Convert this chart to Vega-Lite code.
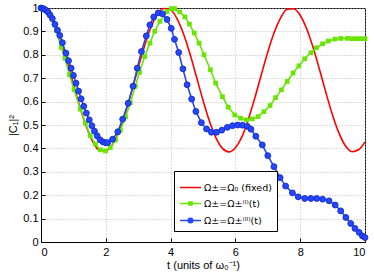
{
 "$schema": "https://vega.github.io/schema/vega-lite/v6.json",
 "width": 324, "height": 234,
 "autosize": {"type": "none"},
 "padding": {"left": 41, "top": 8, "right": 9, "bottom": 30},
 "config": {
  "view": {"stroke": "#000", "strokeWidth": 1},
  "font": "Liberation Sans",
  "axis": {"labelFont": "Liberation Sans", "labelFontSize": 11, "labelColor": "#000", "titleFont": "Liberation Sans", "titleFontSize": 11, "titleFontWeight": "normal", "titleColor": "#000", "domainColor": "#000", "tickColor": "#000", "tickSize": -4, "gridColor": "#bbbbbb", "gridDash": [1, 2], "gridWidth": 1}
 },
 "data": {"values": [
  {"s":"A","t":0,"v":1.0},{"s":"A","t":0.2,"v":0.984},{"s":"A","t":0.4,"v":0.937},{"s":"A","t":0.6,"v":0.865},{"s":"A","t":0.8,"v":0.774},{"s":"A","t":1.0,"v":0.675},{"s":"A","t":1.2,"v":0.578},{"s":"A","t":1.4,"v":0.493},{"s":"A","t":1.6,"v":0.428},{"s":"A","t":1.8,"v":0.392},{"s":"A","t":2.0,"v":0.389},{"s":"A","t":2.2,"v":0.415},{"s":"A","t":2.4,"v":0.472},{"s":"A","t":2.6,"v":0.551},{"s":"A","t":2.8,"v":0.645},{"s":"A","t":3.0,"v":0.745},{"s":"A","t":3.2,"v":0.840},{"s":"A","t":3.4,"v":0.920},{"s":"A","t":3.6,"v":0.974},{"s":"A","t":3.8,"v":0.998},{"s":"A","t":4.0,"v":0.992},{"s":"A","t":4.2,"v":0.954},{"s":"A","t":4.4,"v":0.889},{"s":"A","t":4.6,"v":0.803},{"s":"A","t":4.8,"v":0.705},{"s":"A","t":5.0,"v":0.606},{"s":"A","t":5.2,"v":0.516},{"s":"A","t":5.4,"v":0.445},{"s":"A","t":5.6,"v":0.400},{"s":"A","t":5.8,"v":0.385},{"s":"A","t":6.0,"v":0.403},{"s":"A","t":6.2,"v":0.449},{"s":"A","t":6.4,"v":0.525},{"s":"A","t":6.6,"v":0.616},{"s":"A","t":6.8,"v":0.715},{"s":"A","t":7.0,"v":0.812},{"s":"A","t":7.2,"v":0.896},{"s":"A","t":7.4,"v":0.959},{"s":"A","t":7.6,"v":0.995},{"s":"A","t":7.8,"v":0.997},{"s":"A","t":8.0,"v":0.969},{"s":"A","t":8.2,"v":0.911},{"s":"A","t":8.4,"v":0.830},{"s":"A","t":8.6,"v":0.735},{"s":"A","t":8.8,"v":0.635},{"s":"A","t":9.0,"v":0.542},{"s":"A","t":9.2,"v":0.464},{"s":"A","t":9.4,"v":0.410},{"s":"A","t":9.6,"v":0.386},{"s":"A","t":9.8,"v":0.394},{"s":"A","t":10.0,"v":0.428},
  {"s":"B","t":0,"v":1.0},{"s":"B","t":0.08,"v":0.998},{"s":"B","t":0.16,"v":0.99},{"s":"B","t":0.25,"v":0.975},{"s":"B","t":0.35,"v":0.952},{"s":"B","t":0.47,"v":0.905},{"s":"B","t":0.62,"v":0.832},{"s":"B","t":0.74,"v":0.785},{"s":"B","t":0.88,"v":0.715},{"s":"B","t":1.02,"v":0.652},{"s":"B","t":1.21,"v":0.568},{"s":"B","t":1.37,"v":0.508},{"s":"B","t":1.52,"v":0.455},{"s":"B","t":1.68,"v":0.418},{"s":"B","t":1.83,"v":0.394},{"s":"B","t":1.99,"v":0.389},{"s":"B","t":2.14,"v":0.404},{"s":"B","t":2.30,"v":0.436},{"s":"B","t":2.45,"v":0.478},{"s":"B","t":2.61,"v":0.535},{"s":"B","t":2.76,"v":0.595},{"s":"B","t":2.91,"v":0.665},{"s":"B","t":3.04,"v":0.725},{"s":"B","t":3.20,"v":0.793},{"s":"B","t":3.36,"v":0.850},{"s":"B","t":3.51,"v":0.900},{"s":"B","t":3.67,"v":0.943},{"s":"B","t":3.89,"v":0.985},{"s":"B","t":4.02,"v":0.997},{"s":"B","t":4.12,"v":0.998},{"s":"B","t":4.28,"v":0.983},{"s":"B","t":4.44,"v":0.962},{"s":"B","t":4.58,"v":0.931},{"s":"B","t":4.73,"v":0.893},{"s":"B","t":4.88,"v":0.850},{"s":"B","t":5.03,"v":0.800},{"s":"B","t":5.23,"v":0.736},{"s":"B","t":5.39,"v":0.679},{"s":"B","t":5.60,"v":0.621},{"s":"B","t":5.78,"v":0.576},{"s":"B","t":5.98,"v":0.543},{"s":"B","t":6.16,"v":0.529},{"s":"B","t":6.34,"v":0.522},{"s":"B","t":6.52,"v":0.526},{"s":"B","t":6.70,"v":0.536},{"s":"B","t":6.88,"v":0.557},{"s":"B","t":7.07,"v":0.583},{"s":"B","t":7.24,"v":0.617},{"s":"B","t":7.42,"v":0.650},{"s":"B","t":7.60,"v":0.686},{"s":"B","t":7.78,"v":0.722},{"s":"B","t":7.96,"v":0.753},{"s":"B","t":8.14,"v":0.783},{"s":"B","t":8.33,"v":0.809},{"s":"B","t":8.50,"v":0.830},{"s":"B","t":8.69,"v":0.847},{"s":"B","t":8.87,"v":0.859},{"s":"B","t":9.07,"v":0.867},{"s":"B","t":9.25,"v":0.870},{"s":"B","t":9.46,"v":0.870},{"s":"B","t":9.61,"v":0.869},{"s":"B","t":9.75,"v":0.869},{"s":"B","t":9.87,"v":0.869},{"s":"B","t":10.0,"v":0.869},
  {"s":"C","t":0,"v":1.0},{"s":"C","t":0.05,"v":0.998},{"s":"C","t":0.1,"v":0.995},{"s":"C","t":0.16,"v":0.99},{"s":"C","t":0.22,"v":0.982},{"s":"C","t":0.28,"v":0.97},{"s":"C","t":0.35,"v":0.955},{"s":"C","t":0.43,"v":0.93},{"s":"C","t":0.51,"v":0.905},{"s":"C","t":0.58,"v":0.883},{"s":"C","t":0.66,"v":0.852},{"s":"C","t":0.77,"v":0.807},{"s":"C","t":0.85,"v":0.775},{"s":"C","t":0.93,"v":0.743},{"s":"C","t":1.0,"v":0.712},{"s":"C","t":1.08,"v":0.679},{"s":"C","t":1.16,"v":0.645},{"s":"C","t":1.24,"v":0.612},{"s":"C","t":1.32,"v":0.58},{"s":"C","t":1.40,"v":0.551},{"s":"C","t":1.49,"v":0.522},{"s":"C","t":1.57,"v":0.497},{"s":"C","t":1.65,"v":0.474},{"s":"C","t":1.73,"v":0.454},{"s":"C","t":1.82,"v":0.437},{"s":"C","t":1.91,"v":0.428},{"s":"C","t":1.99,"v":0.424},{"s":"C","t":2.06,"v":0.425},{"s":"C","t":2.21,"v":0.439},{"s":"C","t":2.37,"v":0.471},{"s":"C","t":2.52,"v":0.525},{"s":"C","t":2.69,"v":0.593},{"s":"C","t":2.84,"v":0.666},{"s":"C","t":2.97,"v":0.743},{"s":"C","t":3.10,"v":0.814},{"s":"C","t":3.25,"v":0.881},{"s":"C","t":3.36,"v":0.928},{"s":"C","t":3.48,"v":0.962},{"s":"C","t":3.62,"v":0.979},{"s":"C","t":3.75,"v":0.975},{"s":"C","t":3.89,"v":0.951},{"s":"C","t":4.02,"v":0.913},{"s":"C","t":4.12,"v":0.866},{"s":"C","t":4.25,"v":0.810},{"s":"C","t":4.38,"v":0.740},{"s":"C","t":4.51,"v":0.672},{"s":"C","t":4.65,"v":0.611},{"s":"C","t":4.78,"v":0.558},{"s":"C","t":4.95,"v":0.510},{"s":"C","t":5.11,"v":0.483},{"s":"C","t":5.26,"v":0.469},{"s":"C","t":5.42,"v":0.469},{"s":"C","t":5.58,"v":0.478},{"s":"C","t":5.75,"v":0.490},{"s":"C","t":5.91,"v":0.497},{"s":"C","t":6.07,"v":0.500},{"s":"C","t":6.22,"v":0.499},{"s":"C","t":6.37,"v":0.494},{"s":"C","t":6.48,"v":0.482},{"s":"C","t":6.63,"v":0.452},{"s":"C","t":6.83,"v":0.415},{"s":"C","t":7.00,"v":0.369},{"s":"C","t":7.19,"v":0.322},{"s":"C","t":7.38,"v":0.275},{"s":"C","t":7.55,"v":0.239},{"s":"C","t":7.76,"v":0.210},{"s":"C","t":7.94,"v":0.193},{"s":"C","t":8.14,"v":0.186},{"s":"C","t":8.33,"v":0.186},{"s":"C","t":8.51,"v":0.186},{"s":"C","t":8.69,"v":0.183},{"s":"C","t":8.89,"v":0.176},{"s":"C","t":9.08,"v":0.158},{"s":"C","t":9.25,"v":0.133},{"s":"C","t":9.41,"v":0.105},{"s":"C","t":9.56,"v":0.079},{"s":"C","t":9.69,"v":0.058},{"s":"C","t":9.82,"v":0.041},{"s":"C","t":9.92,"v":0.026},{"s":"C","t":10.0,"v":0.019}
 ]},
 "encoding": {
  "x": {"field": "t", "type": "quantitative", "scale": {"domain": [0, 10], "nice": false}, "axis": {"values": [0, 2, 4, 6, 8, 10], "title": "t (units of ω₀⁻¹)", "labelBaseline": "top", "labelPadding": 8, "titlePadding": 2}},
  "y": {"field": "v", "type": "quantitative", "scale": {"domain": [0, 1], "nice": false}, "axis": {"values": [0, 0.1, 0.2, 0.3, 0.4, 0.5, 0.6, 0.7, 0.8, 0.9, 1], "format": "~g", "title": "|C₁|²", "labelAlign": "right", "labelPadding": 7, "titlePadding": 4}},
  "color": {"field": "s", "type": "nominal", "scale": {"domain": ["A", "B", "C"], "range": ["#ff0000", "#66e600", "#2646ff"]},
   "legend": {"orient": "none", "legendX": 133, "legendY": 163, "title": null,
    "labelExpr": "datum.value == 'A' ? 'Ω±=Ω₀ (fixed)' : datum.value == 'B' ? 'Ω±=Ω±⁽ᴵ⁾(t)' : 'Ω±=Ω±⁽ᴵᴵ⁾(t)'",
    "labelFont": "DejaVu Sans", "labelFontSize": 9.5, "labelColor": "#000",
    "strokeColor": "#000", "fillColor": "#fff", "padding": 5, "cornerRadius": 0,
    "symbolSize": 441, "symbolStrokeWidth": 1.5, "rowPadding": -2, "labelOffset": 2,
    "encode": {"symbols": {"update": {
      "shape": {"signal": "datum.value == 'A' ? 'M-1,0H1' : datum.value == 'B' ? 'M-1,0H1M-0.15,-0.15H0.15V0.15H-0.15Z' : 'M-1,0H1M0.22,0A0.22,0.22,0,1,0,-0.22,0A0.22,0.22,0,1,0,0.22,0Z'"},
      "fill": {"signal": "datum.value == 'C' ? '#2646ff' : 'transparent'"},
      "stroke": {"signal": "datum.value == 'A' ? '#ff0000' : datum.value == 'B' ? '#66e600' : '#2646ff'"}
    }}}
   }}
 },
 "layer": [
  {"transform": [{"filter": "datum.s == 'A'"}], "mark": {"type": "line", "strokeWidth": 1.6, "interpolate": "monotone"}},
  {"transform": [{"filter": "datum.s == 'B'"}], "mark": {"type": "line", "strokeWidth": 1.6}},
  {"transform": [{"filter": "datum.s == 'B'"}], "mark": {"type": "point", "shape": "square", "filled": true, "size": 22, "opacity": 1}},
  {"transform": [{"filter": "datum.s == 'C'"}], "mark": {"type": "line", "strokeWidth": 1.6}},
  {"transform": [{"filter": "datum.s == 'C'"}], "mark": {"type": "point", "shape": "circle", "filled": true, "size": 34, "stroke": "#1530cc", "strokeWidth": 1, "opacity": 1}}
 ]
}
